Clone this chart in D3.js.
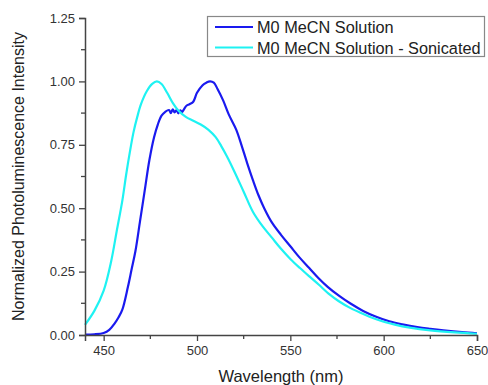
<!DOCTYPE html>
<html><head><meta charset="utf-8">
<script src="https://cdn.jsdelivr.net/npm/d3@7"></script>
<style>body{margin:0;background:#fff}svg{display:block}text{font-family:Arial,"Liberation Sans",sans-serif}</style>
</head><body><div id="chart"></div>
<script>
const seriesNames = ["M0 MeCN Solution", "M0 MeCN Solution - Sonicated"];
const seriesColors = ["#1a1aef", "#1ef2f2"];
const solutionWl = [440,445,450,453,456,458,460,463,465,467,469.5,472,474.5,477,479,481,483,485,486,487,488,489,490,491,492,493,494.5,496,498,500,503,505,507,509,511,514,517,521,524,527,530,533,536,540,545,550,555,560,565,570,576,582,589,596,603,610,618,625,632,642,650];
const solutionI  = [0.002,0.003,0.008,0.02,0.047,0.07,0.1,0.19,0.26,0.33,0.45,0.57,0.69,0.78,0.83,0.865,0.88,0.887,0.875,0.89,0.878,0.887,0.874,0.886,0.879,0.89,0.905,0.91,0.92,0.955,0.985,0.995,1.0,0.995,0.97,0.925,0.87,0.81,0.745,0.675,0.61,0.55,0.5,0.445,0.395,0.35,0.305,0.265,0.225,0.19,0.155,0.125,0.095,0.072,0.054,0.042,0.031,0.024,0.018,0.011,0.007];
const sonicWl = [440,445,450,454,457,460,462,464,466,468,470,473,476,478.5,481,484,487,490,494,498,502,506,510,513,516,520,525,530,535,540,545,550,555,560,565,571,576,582,590,598,606,614,625,638,650];
const sonicI  = [0.04,0.095,0.175,0.29,0.41,0.53,0.63,0.72,0.80,0.86,0.91,0.96,0.99,1.0,0.99,0.955,0.915,0.885,0.86,0.845,0.83,0.81,0.78,0.745,0.705,0.645,0.565,0.485,0.43,0.385,0.34,0.30,0.265,0.232,0.2,0.16,0.133,0.107,0.08,0.057,0.041,0.029,0.018,0.01,0.005];
const xTicks = [450,500,550,600,650];
const xMinor = [475,525,575,625];
const yTicks = [0,0.25,0.5,0.75,1.0,1.25];
const yMinor = [0.125,0.375,0.625,0.875,1.125];
const xTitle = "Wavelength (nm)";
const yTitle = "Normalized Photoluminescence Intensity";

const W = 488, H = 385;
const svg = d3.select("#chart").append("svg").attr("width", W).attr("height", H);
const x = d3.scaleLinear().domain([440, 650]).range([85, 477]);
const y = d3.scaleLinear().domain([0, 1.25]).range([335, 18]);
const axisColor = "#444";

// lines
const line = d3.line().x(d => x(d[0])).y(d => y(d[1])).curve(d3.curveCatmullRom.alpha(0.5));
const series = [d3.zip(solutionWl, solutionI), d3.zip(sonicWl, sonicI)];
series.forEach((s, i) => {
  svg.append("path").datum(s).attr("d", line).attr("fill", "none")
    .attr("stroke", seriesColors[i]).attr("stroke-width", 2.2).attr("stroke-linejoin", "round");
});

// x axis
const gx = svg.append("g").attr("transform", `translate(0,${y(0)})`);
gx.call(d3.axisBottom(x).tickValues(xTicks).tickSize(6).tickPadding(5).tickFormat(d3.format("d")));
gx.call(g => g.selectAll(".tick text").attr("font-size", 13).attr("fill", "#333").attr("font-family", "Arial, 'Liberation Sans', sans-serif"));
gx.selectAll(".minor").data(xMinor).enter().append("line").attr("class", "minor")
  .attr("x1", d => x(d)).attr("x2", d => x(d)).attr("y1", 0).attr("y2", 4);
// y axis
const gy = svg.append("g").attr("transform", `translate(${x(440)},0)`);
gy.call(d3.axisLeft(y).tickValues(yTicks).tickSize(6).tickPadding(4).tickFormat(d3.format(".2f")));
gy.call(g => g.selectAll(".tick text").attr("font-size", 13).attr("fill", "#333").attr("font-family", "Arial, 'Liberation Sans', sans-serif"));
gy.selectAll(".minor").data(yMinor).enter().append("line").attr("class", "minor")
  .attr("y1", d => y(d)).attr("y2", d => y(d)).attr("x1", 0).attr("x2", -4);
[gx, gy].forEach(g => {
  g.selectAll("path.domain").attr("stroke", axisColor).attr("stroke-width", 1.5);
  g.selectAll("line").attr("stroke", axisColor).attr("stroke-width", 1.3);
});

// titles
svg.append("text").attr("x", 281).attr("y", 382).attr("text-anchor", "middle")
  .attr("font-size", 16.5).attr("fill", "#222").text(xTitle);
svg.append("text").attr("transform", `translate(24,${(y(0) + y(1.25)) / 2}) rotate(-90)`)
  .attr("text-anchor", "middle").attr("font-size", 16).attr("fill", "#222").text(yTitle);

// legend
const lg = svg.append("g");
lg.append("rect").attr("x", 207.5).attr("y", 16.5).attr("width", 277).attr("height", 40)
  .attr("fill", "#fff").attr("stroke", "#888").attr("stroke-width", 1.2);
seriesNames.forEach((n, i) => {
  const yy = 27 + i * 20.5;
  lg.append("line").attr("x1", 215).attr("x2", 253).attr("y1", yy).attr("y2", yy)
    .attr("stroke", seriesColors[i]).attr("stroke-width", 2.2);
  lg.append("text").attr("x", 257).attr("y", yy + 6).attr("font-size", 16.3).attr("fill", "#222").text(n);
});
</script></body></html>
